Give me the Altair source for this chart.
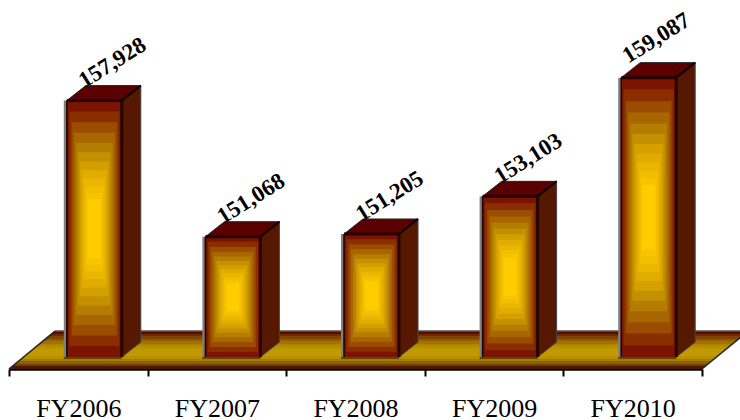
import altair as alt
import pandas as pd

# Reported totals per fiscal year
YEARS = ["FY2006", "FY2007", "FY2008", "FY2009", "FY2010"]
TOTALS = [157928, 151068, 151205, 153103, 159087]

# Scale domains and plot size
WIDTH, HEIGHT = 693, 369
X_DOMAIN = [0, 5]
Y_DOMAIN = [144400, 163000]
BASE = 145000

# Pixel-to-data factors for the oblique 3D projection
UX = (X_DOMAIN[1] - X_DOMAIN[0]) / WIDTH
UY = (Y_DOMAIN[1] - Y_DOMAIN[0]) / HEIGHT
DEPTH_X, DEPTH_Y = 19 * UX, 15 * UY
FRONT_W = 55 * UX
FRONT_SHIFT = 16 * UX

RAMP = ["#7a1400", "#8a2e00", "#9a4c00", "#a86600", "#b47c00", "#c49000",
        "#d4a000", "#e0ac00", "#eab600", "#f2be00", "#f8c400", "#ffcc00"]
FLOOR_BANDS = ["#5a0c00", "#6e2a00", "#804400", "#906000", "#a07400", "#ae8400", "#ba9200",
               "#c09a00", "#c09a00", "#c09a00", "#b89000", "#a47c00", "#8c6000", "#704000",
               "#4e1800"]


def qx(field):
    return alt.X(field, type="quantitative", scale=alt.Scale(domain=X_DOMAIN, nice=False, zero=False), axis=None)


def qy(field):
    return alt.Y(field, type="quantitative", scale=alt.Scale(domain=Y_DOMAIN, nice=False, zero=False), axis=None)


# Geometry of each bar in data units
bars = pd.DataFrame({"year": YEARS, "total": TOTALS})
bars["x0"] = [i + 0.5 + FRONT_SHIFT - FRONT_W / 2 for i in range(len(YEARS))]
bars["x1"] = bars["x0"] + FRONT_W
bars["base"] = BASE

# Floor slab, one row per horizontal edge
floor_top = BASE + 26 * UY
floor_dx = 46 * UX
floor = pd.DataFrame({"xl": [X_DOMAIN[0], X_DOMAIN[0] + floor_dx],
                      "xr": [X_DOMAIN[1], X_DOMAIN[1] + floor_dx],
                      "v": [Y_DOMAIN[0], floor_top]})
n_bands = len(FLOOR_BANDS)
stops = []
for i, c in enumerate(FLOOR_BANDS):
    stops.append(alt.GradientStop(offset=i / n_bands, color=c))
    stops.append(alt.GradientStop(offset=(i + 1) / n_bands, color=c))
floor_fill = alt.Gradient(gradient="linear", stops=stops, x1=0, x2=0, y1=0, y2=1)
floor_layer = alt.Chart(floor).mark_area(orient="horizontal", fill=floor_fill).encode(
    x=qx("xl"), x2="xr", y=qy("v"))

top_edge = alt.Chart(floor.iloc[[1]].assign(x=floor_dx + X_DOMAIN[0], x2=X_DOMAIN[1] + floor_dx)).mark_rule(
    color="#555555", strokeWidth=1.5).encode(x=qx("x"), x2="x2", y=qy("v"))
slant_rows = pd.DataFrame({"edge": ["l", "l", "r", "r"],
                           "x": [X_DOMAIN[0], X_DOMAIN[0] + floor_dx, X_DOMAIN[1], X_DOMAIN[1] + floor_dx],
                           "v": [Y_DOMAIN[0], floor_top, Y_DOMAIN[0], floor_top]})
slant_edges = alt.Chart(slant_rows).mark_line(color="#222222", strokeWidth=1.5).encode(
    x=qx("x"), y=qy("v"), detail="edge:N")

# Side and top faces of each bar
side_rows = []
top_rows = []
for _, b in bars.iterrows():
    side_rows.append({"year": b.year, "x": b.x1, "t": b.total, "b": BASE})
    side_rows.append({"year": b.year, "x": b.x1 + DEPTH_X, "t": b.total + DEPTH_Y, "b": BASE + DEPTH_Y})
    top_rows.append({"year": b.year, "xa": b.x0, "xb": b.x1, "v": b.total})
    top_rows.append({"year": b.year, "xa": b.x0 + DEPTH_X, "xb": b.x1 + DEPTH_X, "v": b.total + DEPTH_Y})
side = pd.DataFrame(side_rows)
top = pd.DataFrame(top_rows)

side_layer = alt.Chart(side).mark_area(color="#561800", stroke="#444444", strokeWidth=1).encode(
    x=qx("x"), y=qy("t"), y2="b", detail="year:N")
top_layer = alt.Chart(top).mark_area(orient="horizontal", color="#5a0000", stroke="#222222", strokeWidth=1).encode(
    x=qx("xa"), x2="xb", y=qy("v"), detail="year:N")

# Grey shade to the left of the front face and dark shade below it
shade = bars.assign(xa=bars["x0"] - 3 * UX, xb=bars["x0"])
shade_layer = alt.Chart(shade).mark_rect(color="#808080").encode(
    x=qx("xa"), x2="xb", y=qy("total"), y2="base")
under = bars.assign(xa=bars["x0"] - 3 * UX, xb=bars["x1"], ya=BASE, yb=BASE - 2 * UY)
under_layer = alt.Chart(under).mark_rect(color="#5e4800").encode(
    x=qx("xa"), x2="xb", y=qy("ya"), y2="yb")

# Front faces as nested rectangles stepping from the rim colour to the core colour
ring_rows = []
for _, b in bars.iterrows():
    w, h = b.x1 - b.x0, b.total - BASE
    for k, color in enumerate(RAMP):
        t = 0.8 * (1 - (1 - k / len(RAMP)) ** 1.3)
        ring_rows.append({"year": b.year, "order": k, "color": color,
                          "xa": b.x0 + t * w / 2, "xb": b.x1 - t * w / 2,
                          "ya": BASE + t * h / 2, "yb": b.total - t * h / 2})
rings = pd.DataFrame(ring_rows)
ring_layers = [
    alt.Chart(rings[rings["order"] == k]).mark_rect().encode(
        x=qx("xa"), x2="xb", y=qy("ya"), y2="yb",
        fill=alt.Fill("color:N", scale=None))
    for k in range(len(RAMP))
]

# Dark edges on the front face
left_edge = alt.Chart(bars).mark_rule(color="#1e0400", strokeWidth=1.5).encode(
    x=qx("x0"), y=qy("total"), y2="base")
right_edge = alt.Chart(bars).mark_rule(color="#240600", strokeWidth=3).encode(
    x=qx("x1"), y=qy("total"), y2="base")
top_front = alt.Chart(bars).mark_rule(color="#220200", strokeWidth=3).encode(
    x=qx("x0"), x2="x1", y=qy("total"))
corner = pd.DataFrame([{"year": b.year, "part": p, "x": x, "v": v}
                       for _, b in bars.iterrows()
                       for p, x, v in [("a", b.x1, b.total), ("a", b.x1 + DEPTH_X, b.total + DEPTH_Y)]])
corner_layer = alt.Chart(corner).mark_line(color="#100000", strokeWidth=2).encode(
    x=qx("x"), y=qy("v"), detail="year:N")

# Category axis and rotated value labels; dx and dy follow the rotated text frame
band = alt.Scale(domain=YEARS, paddingInner=0, paddingOuter=0)
label_font = dict(font="Liberation Serif", fontWeight="bold", fontSize=23, angle=328, color="black")


def value_labels(rows, dx, dy, axis):
    return alt.Chart(rows).mark_text(dx=dx, dy=dy, **label_font).encode(
        x=alt.X("year:N", scale=band, sort=YEARS, axis=axis),
        y=qy("total"),
        text=alt.Text("total:Q", format=","))


year_axis = alt.Axis(title=None, labelAngle=0, labelFont="Liberation Serif", labelFontSize=26,
                     labelColor="black", labelPadding=19, tickBand="extent", tickSize=7,
                     tickColor="black", tickWidth=2, domainColor="black", domainWidth=2.5,
                     grid=False)
labels_a = value_labels(bars[bars["year"] != "FY2010"], 49, -14, year_axis)
labels_b = value_labels(bars[bars["year"] == "FY2010"], 41, -21, None)

chart = alt.layer(
    floor_layer, top_edge, slant_edges, shade_layer, under_layer, side_layer, top_layer,
    *ring_layers, left_edge, right_edge, top_front, corner_layer, labels_a, labels_b,
).resolve_scale(x="independent").properties(
    width=WIDTH, height=HEIGHT,
    autosize=alt.AutoSizeParams(type="none"),
    padding={"left": 9, "top": 0, "right": 38, "bottom": 51},
    background="white",
).configure_view(stroke=None)

chart.save("out.html", embed_options={"renderer": "svg", "actions": False})
